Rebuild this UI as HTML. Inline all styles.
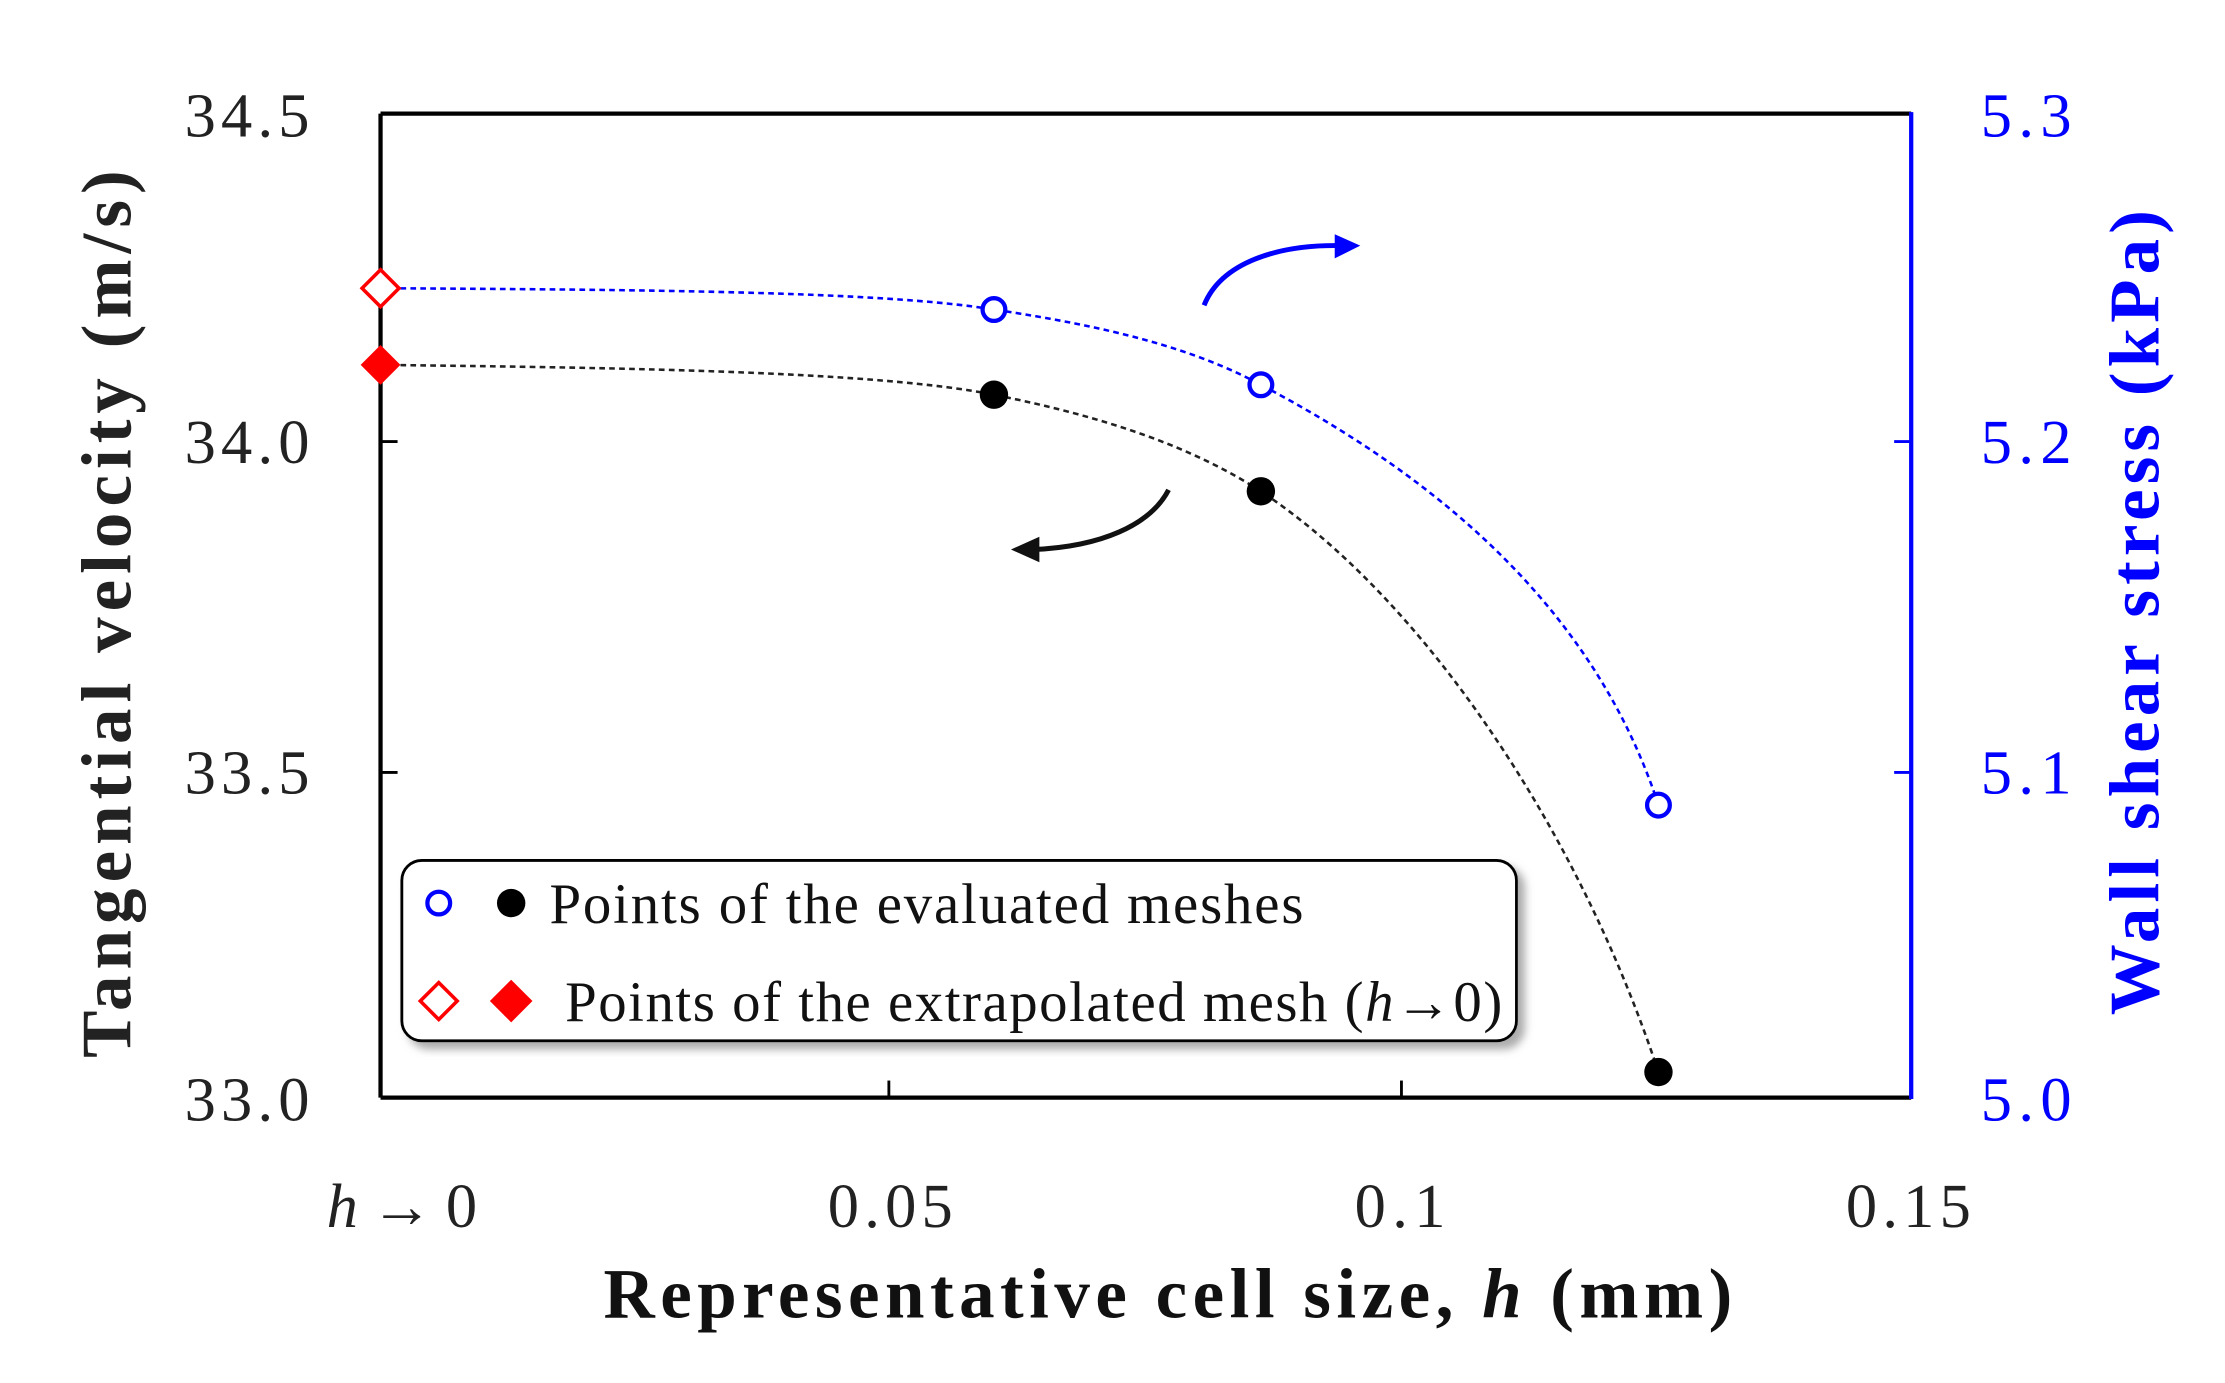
<!DOCTYPE html>
<html><head><style>html,body{margin:0;padding:0;background:#fff}svg{display:block}</style></head><body>
<svg width="2225" height="1383" viewBox="0 0 1567 974" preserveAspectRatio="none" xmlns="http://www.w3.org/2000/svg" font-family="Liberation Serif, serif">
<defs><filter id="sh" x="-5%" y="-20%" width="115%" height="150%"><feDropShadow dx="5" dy="5" stdDeviation="3" flood-color="#888" flood-opacity="0.7"/></filter></defs>
<line x1="268" y1="80" x2="1346" y2="80" stroke="#000" stroke-width="3"/>
<line x1="268" y1="80" x2="268" y2="773" stroke="#000" stroke-width="3"/>
<line x1="268" y1="773" x2="1346" y2="773" stroke="#000" stroke-width="3"/>
<line x1="1346" y1="79" x2="1346" y2="774" stroke="#00f" stroke-width="3"/>
<g stroke="#000" stroke-width="2"><line x1="268" y1="311" x2="280" y2="311"/><line x1="268" y1="544" x2="280" y2="544"/><line x1="626" y1="773" x2="626" y2="761"/><line x1="987" y1="773" x2="987" y2="761"/></g>
<g stroke="#00f" stroke-width="2"><line x1="1346" y1="311" x2="1334" y2="311"/><line x1="1346" y1="544" x2="1334" y2="544"/></g>
<g font-size="44" fill="#222"><text x="130" y="96" textLength="88">34.5</text><text x="130" y="326" textLength="88">34.0</text><text x="130" y="559" textLength="88">33.5</text><text x="130" y="789" textLength="88">33.0</text></g>
<g font-size="44" fill="#00f"><text x="1395" y="96" textLength="64">5.3</text><text x="1395" y="326" textLength="64">5.2</text><text x="1395" y="559" textLength="64">5.1</text><text x="1395" y="789" textLength="64">5.0</text></g>
<g font-size="44" fill="#222"><text x="230" y="864" textLength="106"><tspan font-style="italic">h</tspan>→0</text><text x="583" y="864" textLength="88">0.05</text><text x="954" y="864" textLength="64">0.1</text><text x="1300" y="864" textLength="88">0.15</text></g>
<text x="425" y="928" font-size="50" font-weight="bold" fill="#111" textLength="795">Representative cell size, <tspan font-style="italic">h</tspan> (mm)</text>
<text transform="translate(92,745) rotate(-90)" font-size="50" font-weight="bold" fill="#222" textLength="625">Tangential velocity (m/s)</text>
<text transform="translate(1520,715) rotate(-90)" font-size="50" font-weight="bold" fill="#00f" textLength="567">Wall shear stress (kPa)</text>
<path d="M268,203 C450,204 620,205 700,218 C780,230 840,245 888,271 C1000,330 1120,420 1168,567" fill="none" stroke="#00f" stroke-width="1.8" stroke-dasharray="4,3"/>
<path d="M268,257 C450,259 620,262 700,278 C780,294 840,315 888,346 C1000,420 1110,580 1168,755" fill="none" stroke="#222" stroke-width="1.8" stroke-dasharray="4,3"/>
<path d="M848,215 C860,185 900,172 945,173" fill="none" stroke="#00f" stroke-width="3.5"/>
<path d="M940,165 L958,173 L940,182 Z" fill="#00f"/>
<path d="M823,345 C810,370 775,385 728,387" fill="none" stroke="#111" stroke-width="3.5"/>
<path d="M732,378 L712,387 L732,396 Z" fill="#111"/>
<g fill="#fff" stroke="#00f" stroke-width="3"><circle cx="700" cy="218" r="8"/><circle cx="888" cy="271" r="8"/><circle cx="1168" cy="567" r="8"/></g>
<g fill="#000"><circle cx="700" cy="278" r="10"/><circle cx="888" cy="346" r="10"/><circle cx="1168" cy="755" r="10"/></g>
<path d="M268,190 L281,203 L268,216 L255,203 Z" fill="#fff" stroke="#f00" stroke-width="2.5"/>
<path d="M268,243 L282,257 L268,271 L254,257 Z" fill="#f00"/>
<rect x="283" y="606" width="785" height="127" rx="14" fill="#fff" stroke="#000" stroke-width="2" filter="url(#sh)"/>
<circle cx="309" cy="636" r="8" fill="#fff" stroke="#00f" stroke-width="3"/>
<circle cx="360" cy="636" r="10" fill="#000"/>
<path d="M309,692 L322,705 L309,718 L296,705 Z" fill="#fff" stroke="#f00" stroke-width="2.5"/>
<path d="M360,690 L375,705 L360,720 L345,705 Z" fill="#f00"/>
<text x="387" y="650" font-size="40" fill="#111" textLength="531">Points of the evaluated meshes</text>
<text x="398" y="719" font-size="40" fill="#111" textLength="660">Points of the extrapolated mesh (<tspan font-style="italic">h</tspan>→0)</text>
</svg>
</body></html>
